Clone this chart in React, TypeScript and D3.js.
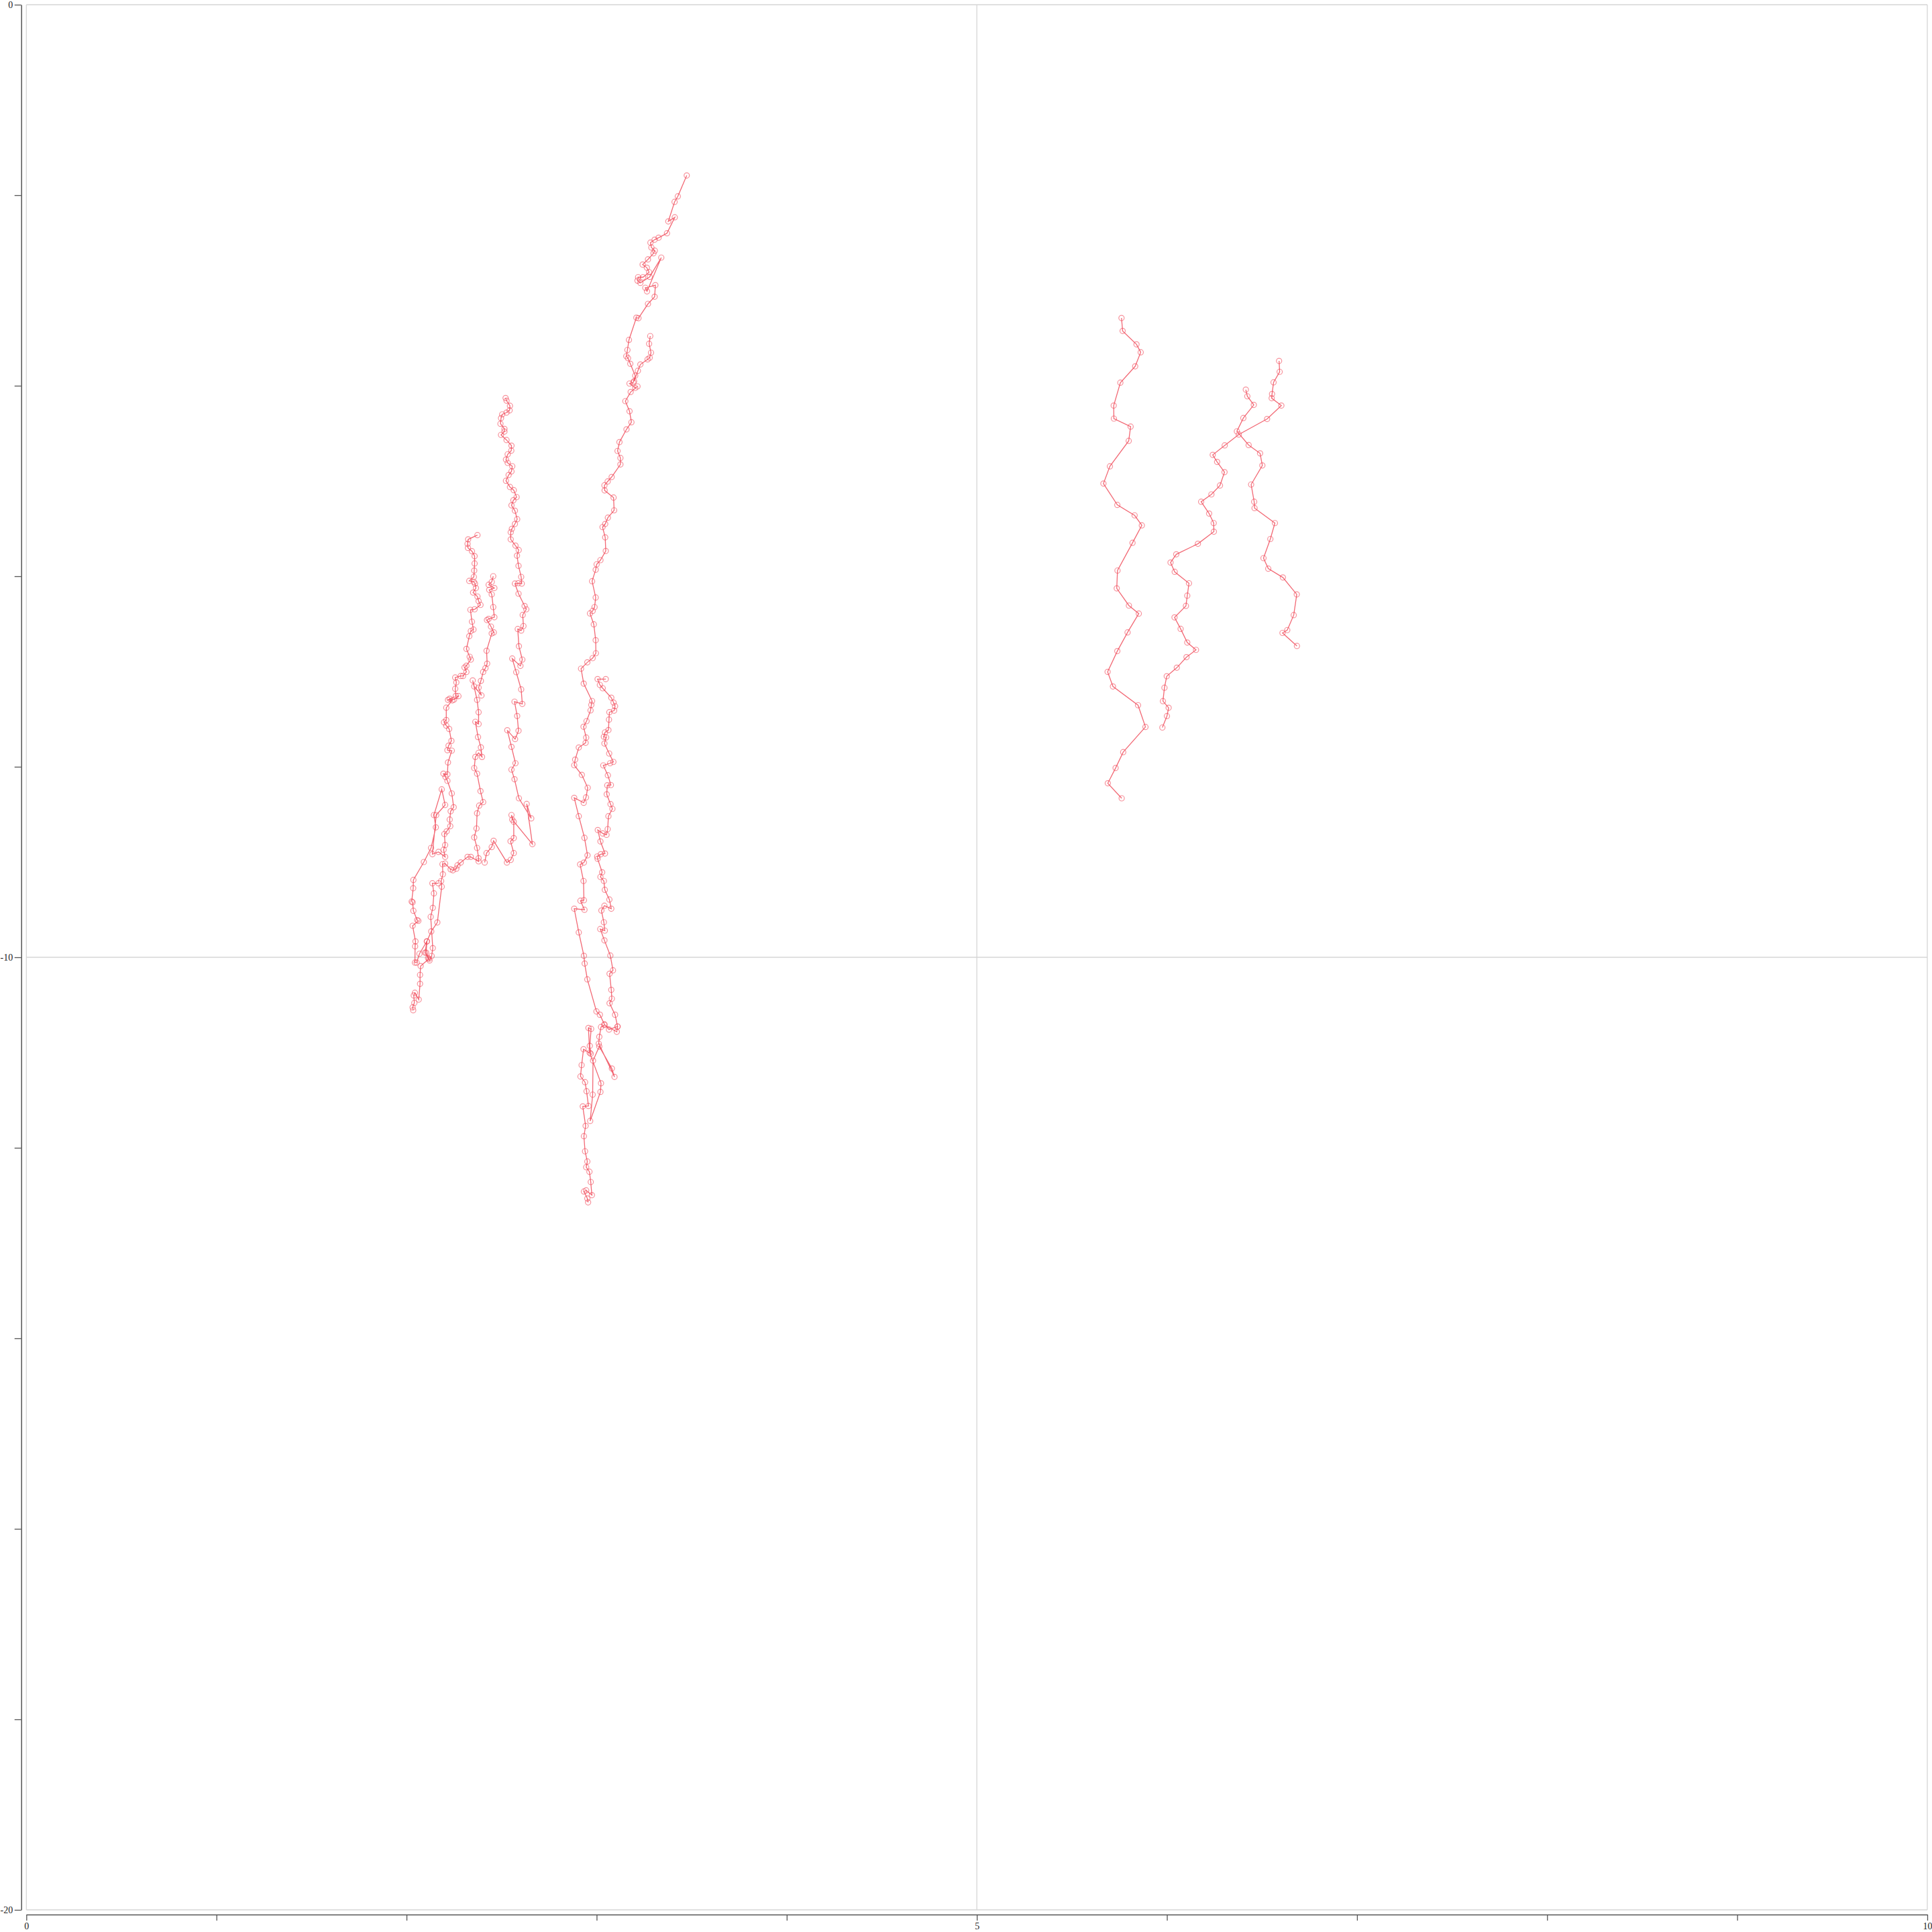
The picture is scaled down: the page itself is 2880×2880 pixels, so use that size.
import * as d3 from 'd3'
import { useEffect, useRef } from 'react'

type Pt = [number, number]

const xTicks = d3.range(0, 11, 1)
const yTicks = d3.range(0, -21, -2)
const xLabels = [0, 5, 10]
const yLabels = [0, -10, -20]

// left cluster
const westA: Pt[] = [
  [2.521, -4.129], [2.526, -4.157], [2.544, -4.211], [2.542, -4.258], [2.526, -4.282], [2.503, -4.301],
  [2.497, -4.34], [2.494, -4.399], [2.515, -4.453], [2.515, -4.481], [2.497, -4.516], [2.526, -4.57],
  [2.552, -4.629], [2.551, -4.681], [2.532, -4.72], [2.523, -4.775], [2.532, -4.81], [2.556, -4.845],
  [2.552, -4.899], [2.537, -4.937], [2.523, -4.998], [2.544, -5.063], [2.564, -5.096], [2.579, -5.169],
  [2.562, -5.202], [2.552, -5.256], [2.57, -5.312], [2.582, -5.401], [2.57, -5.451], [2.554, -5.502],
  [2.548, -5.538], [2.548, -5.613], [2.573, -5.678], [2.59, -5.725], [2.581, -5.784], [2.589, -5.89],
  [2.603, -6.007], [2.606, -6.077], [2.588, -6.073], [2.57, -6.077], [2.589, -6.183], [2.621, -6.312],
  [2.63, -6.347], [2.611, -6.406], [2.615, -6.523], [2.603, -6.57], [2.585, -6.554], [2.591, -6.735],
  [2.609, -6.875], [2.599, -6.941], [2.556, -6.864], [2.577, -7.007], [2.603, -7.188], [2.609, -7.34],
  [2.568, -7.317], [2.582, -7.467], [2.589, -7.622], [2.571, -7.709], [2.53, -7.617], [2.552, -7.791],
  [2.573, -7.963], [2.552, -8.03], [2.568, -8.131], [2.591, -8.331], [2.656, -8.542], [2.632, -8.39],
  [2.662, -8.812], [2.556, -8.554], [2.552, -8.507], [2.564, -8.577], [2.564, -8.749], [2.547, -8.782],
  [2.564, -8.906], [2.548, -8.977], [2.528, -9.005], [2.458, -8.777], [2.448, -8.843], [2.421, -8.906],
  [2.411, -9.005],
]

const westB: Pt[] = [
  [2.456, -6.0], [2.448, -6.059], [2.432, -6.089], [2.462, -6.124], [2.435, -6.143], [2.448, -6.19],
  [2.456, -6.324], [2.462, -6.43], [2.432, -6.448], [2.423, -6.46], [2.444, -6.528], [2.459, -6.589],
  [2.448, -6.601], [2.421, -6.782], [2.424, -6.918], [2.415, -6.965], [2.403, -7.005], [2.391, -7.099],
  [2.379, -7.169], [2.394, -7.251], [2.356, -7.157], [2.348, -7.094], [2.371, -7.298], [2.379, -7.427],
  [2.379, -7.551], [2.362, -7.528], [2.376, -7.688], [2.391, -7.796], [2.397, -7.897], [2.379, -7.854],
  [2.362, -7.897], [2.356, -8.014], [2.371, -8.073], [2.389, -8.256], [2.403, -8.371], [2.382, -8.408],
  [2.371, -8.488], [2.368, -8.648], [2.356, -8.742], [2.371, -8.852], [2.379, -8.96], [2.379, -8.993],
  [2.338, -8.946], [2.321, -8.946], [2.285, -9.005], [2.268, -9.035], [2.262, -9.07], [2.244, -9.087],
  [2.232, -9.077], [2.203, -9.016], [2.189, -9.023], [2.191, -9.129], [2.182, -9.199], [2.185, -9.258],
  [2.162, -9.634], [2.13, -9.728], [2.107, -9.833], [2.097, -9.951], [2.113, -10.009], [2.121, -10.033],
  [2.132, -9.986], [2.138, -9.904], [2.127, -9.575], [2.138, -9.481], [2.144, -9.329], [2.136, -9.223],
  [2.168, -9.223],
]

const westC: Pt[] = [
  [2.373, -5.568], [2.324, -5.613], [2.321, -5.66], [2.323, -5.702], [2.344, -5.737], [2.358, -5.789],
  [2.358, -5.866], [2.356, -5.941], [2.354, -6.007], [2.33, -6.049], [2.354, -6.059], [2.36, -6.077],
  [2.365, -6.124], [2.35, -6.171], [2.373, -6.213], [2.379, -6.261], [2.389, -6.301], [2.358, -6.347],
  [2.336, -6.352], [2.344, -6.477], [2.352, -6.559], [2.338, -6.575], [2.33, -6.629], [2.315, -6.763],
  [2.332, -6.845], [2.338, -6.875], [2.315, -6.939], [2.305, -6.958], [2.315, -7.005], [2.297, -7.047],
  [2.285, -7.047], [2.256, -7.063], [2.262, -7.115], [2.256, -7.181], [2.259, -7.256], [2.273, -7.258],
  [2.25, -7.294], [2.227, -7.286], [2.218, -7.298], [2.241, -7.303], [2.209, -7.38], [2.209, -7.509],
  [2.197, -7.533], [2.209, -7.568], [2.224, -7.603], [2.236, -7.728], [2.221, -7.779], [2.215, -7.826],
  [2.238, -7.831], [2.218, -7.955], [2.215, -8.08], [2.194, -8.073], [2.205, -8.108], [2.215, -8.148],
  [2.238, -8.28], [2.248, -8.425], [2.232, -8.467], [2.227, -8.554], [2.23, -8.624], [2.211, -8.678],
  [2.199, -8.706], [2.203, -8.822], [2.195, -8.871], [2.203, -8.946], [2.168, -8.894], [2.136, -8.918],
  [2.156, -8.507], [2.203, -8.401], [2.185, -8.237], [2.144, -8.507], [2.154, -8.636], [2.129, -8.852],
  [2.091, -9.0], [2.036, -9.188], [2.035, -9.275], [2.027, -9.415], [2.032, -9.423], [2.036, -9.512],
  [2.056, -9.61], [2.062, -9.618], [2.032, -9.669], [2.047, -9.833], [2.045, -9.885], [2.044, -10.056],
  [2.053, -10.056], [2.068, -9.963], [2.107, -9.833], [2.103, -9.951], [2.118, -10.016], [2.074, -10.092],
  [2.071, -10.185], [2.071, -10.279], [2.064, -10.444], [2.044, -10.373], [2.038, -10.401], [2.041, -10.479],
  [2.032, -10.526], [2.035, -10.556],
]

// middle trace
const midA: Pt[] = [
  [3.474, -1.793], [3.427, -2.012], [3.41, -2.07], [3.377, -2.275], [3.411, -2.232], [3.37, -2.399],
  [3.326, -2.446], [3.305, -2.467], [3.283, -2.498], [3.288, -2.549], [3.306, -2.582], [3.299, -2.61],
  [3.27, -2.674], [3.242, -2.728], [3.264, -2.761], [3.276, -2.808], [3.244, -2.861], [3.218, -2.861],
  [3.215, -2.897], [3.23, -2.92], [3.279, -2.857], [3.34, -2.655], [3.265, -3.009], [3.256, -2.972],
  [3.309, -2.944], [3.305, -3.066], [3.27, -3.141], [3.22, -3.291], [3.209, -3.286], [3.17, -3.519],
  [3.162, -3.625], [3.156, -3.69], [3.165, -3.711], [3.177, -3.77], [3.203, -3.894], [3.193, -3.965],
  [3.173, -3.977], [3.203, -4.023], [3.215, -4.007], [3.179, -4.066], [3.151, -4.162], [3.173, -4.268],
  [3.183, -4.383], [3.157, -4.458], [3.12, -4.592], [3.11, -4.685], [3.125, -4.758], [3.125, -4.826],
  [3.079, -4.958], [3.058, -5.005], [3.041, -5.045], [3.042, -5.099], [3.089, -5.174], [3.092, -5.308],
  [3.059, -5.385], [3.045, -5.451], [3.031, -5.484], [3.045, -5.592], [3.048, -5.735], [3.02, -5.831],
  [3.0, -5.875], [2.995, -5.932], [2.976, -6.052], [2.995, -6.223], [2.989, -6.324], [2.979, -6.364],
  [2.965, -6.39], [2.985, -6.505], [2.995, -6.671], [2.996, -6.808], [2.979, -6.859], [2.951, -6.904],
  [2.918, -6.97], [2.932, -7.127], [2.976, -7.31], [2.972, -7.35], [2.968, -7.408], [2.947, -7.521],
  [2.931, -7.58], [2.945, -7.693], [2.942, -7.749], [2.906, -7.798], [2.887, -7.925], [2.882, -7.984],
  [2.922, -8.085], [2.953, -8.22], [2.944, -8.322], [2.932, -8.378], [2.882, -8.326], [2.906, -8.519],
  [2.936, -8.746], [2.952, -8.93], [2.933, -9.006], [2.913, -9.025], [2.931, -9.199], [2.933, -9.401],
  [2.915, -9.406], [2.936, -9.501], [2.882, -9.49], [2.906, -9.739], [2.933, -9.985], [2.937, -10.066],
  [2.951, -10.232], [2.999, -10.568], [3.017, -10.603], [3.041, -10.704], [3.065, -10.758], [3.11, -10.727],
  [3.106, -10.782], [3.041, -10.711], [3.023, -10.732], [3.014, -10.835], [3.011, -10.906], [3.094, -11.256],
  [3.08, -11.168], [3.014, -10.937], [2.981, -11.085], [2.979, -11.442], [2.966, -11.718], [3.02, -11.413],
  [3.023, -11.323], [2.963, -11.001], [2.957, -10.742], [2.971, -10.751], [2.964, -10.93], [2.969, -11.013],
  [2.931, -10.965], [2.921, -11.132], [2.915, -11.251], [2.939, -11.311], [2.947, -11.406], [2.957, -11.561],
  [2.927, -11.566], [2.942, -11.77], [2.933, -11.878], [2.939, -12.037], [2.951, -12.144], [2.945, -12.204],
  [2.962, -12.251], [2.969, -12.359], [2.975, -12.497], [2.945, -12.447], [2.933, -12.459], [2.951, -12.532],
  [2.955, -12.573],
]

const midB: Pt[] = [
  [3.282, -3.479], [3.276, -3.559], [3.286, -3.653], [3.279, -3.706], [3.268, -3.723], [3.23, -3.777],
  [3.217, -3.843], [3.197, -3.953],
]

const midC: Pt[] = [
  [3.048, -7.08], [3.005, -7.08], [3.017, -7.141], [3.032, -7.176], [3.077, -7.275], [3.089, -7.326],
  [3.097, -7.364], [3.092, -7.411], [3.067, -7.427], [3.065, -7.505], [3.062, -7.615], [3.044, -7.639],
  [3.038, -7.685], [3.05, -7.692], [3.041, -7.756], [3.066, -7.861], [3.088, -7.949], [3.071, -7.963],
  [3.035, -7.986], [3.059, -8.089], [3.075, -8.192], [3.056, -8.195], [3.053, -8.289], [3.073, -8.392],
  [3.083, -8.442], [3.062, -8.519], [3.058, -8.655], [3.052, -8.714], [3.032, -8.7], [3.006, -8.664],
  [3.02, -8.784], [3.044, -8.911], [3.022, -8.918], [3.003, -8.942], [3.005, -8.966], [3.029, -9.108],
  [3.02, -9.156], [3.038, -9.199], [3.043, -9.292], [3.067, -9.394], [3.077, -9.49], [3.041, -9.459],
  [3.025, -9.509], [3.038, -9.632], [3.043, -9.72], [3.019, -9.704], [3.041, -9.823], [3.072, -9.982],
  [3.086, -10.137], [3.068, -10.173], [3.077, -10.342], [3.08, -10.435], [3.068, -10.483], [3.097, -10.603],
  [3.11, -10.727],
]

// right cluster
const eastA: Pt[] = [
  [5.761, -3.289], [5.767, -3.425], [5.84, -3.566], [5.862, -3.649], [5.833, -3.796], [5.755, -3.968],
  [5.72, -4.208], [5.721, -4.345], [5.809, -4.429], [5.799, -4.579], [5.7, -4.846], [5.666, -5.027],
  [5.739, -5.251], [5.83, -5.361], [5.868, -5.466], [5.819, -5.649], [5.74, -5.94], [5.736, -6.127],
  [5.8, -6.308], [5.852, -6.392], [5.793, -6.589], [5.739, -6.786], [5.688, -7.004], [5.716, -7.157],
  [5.848, -7.354], [5.887, -7.582], [5.77, -7.846], [5.73, -8.013], [5.689, -8.173], [5.762, -8.331],
]

const eastB: Pt[] = [
  [6.59, -3.74], [6.593, -3.854], [6.561, -3.964], [6.553, -4.087], [6.551, -4.131], [6.602, -4.208],
  [6.527, -4.349], [6.378, -4.512], [6.304, -4.626], [6.241, -4.726], [6.264, -4.8], [6.303, -4.907],
  [6.279, -5.047], [6.234, -5.141], [6.18, -5.218], [6.222, -5.342], [6.246, -5.442], [6.247, -5.532],
  [6.163, -5.659], [6.049, -5.77], [6.019, -5.856], [6.041, -5.954], [6.116, -6.074], [6.107, -6.204],
  [6.1, -6.311], [6.04, -6.432], [6.072, -6.552], [6.107, -6.696], [6.153, -6.773], [6.103, -6.849],
  [6.052, -6.96], [5.999, -7.05], [5.987, -7.17], [5.979, -7.311], [6.009, -7.381], [6.0, -7.468],
  [5.976, -7.588],
]

const eastC: Pt[] = [
  [6.415, -4.041], [6.423, -4.111], [6.457, -4.201], [6.402, -4.339], [6.368, -4.479], [6.43, -4.623],
  [6.49, -4.71], [6.502, -4.837], [6.443, -5.037], [6.459, -5.218], [6.461, -5.285], [6.568, -5.442],
  [6.544, -5.609], [6.508, -5.81], [6.533, -5.92], [6.61, -6.013], [6.683, -6.191], [6.667, -6.408],
  [6.633, -6.565], [6.608, -6.595], [6.684, -6.732],
]

const tracks = [westA, westB, westC, midA, midB, midC, eastA, eastB, eastC]

const plot = { left: 39.3, right: 2873, top: 7, bottom: 2847 }

export default function App() {
  const ref = useRef<SVGSVGElement | null>(null)

  useEffect(() => {
    if (!ref.current) return
    const svg = d3.select(ref.current)
    svg.selectAll('*').remove()

    const x = d3.scaleLinear().domain([0, 10]).range([plot.left, plot.right])
    const y = d3.scaleLinear().domain([0, -20]).range([plot.top, plot.bottom])

    // grid at labelled ticks
    const grid = svg.append('g').attr('stroke', '#d6d6d6').attr('stroke-width', 1.3)
    xLabels.forEach(v => {
      grid.append('line')
        .attr('x1', x(v)).attr('x2', x(v))
        .attr('y1', plot.top).attr('y2', plot.bottom)
    })
    yLabels.forEach(v => {
      grid.append('line')
        .attr('x1', plot.left).attr('x2', plot.right)
        .attr('y1', y(v)).attr('y2', y(v))
    })

    // x axis
    const gx = svg.append('g')
      .attr('transform', `translate(0,2854)`)
      .call(
        d3.axisBottom(x)
          .tickValues(xTicks)
          .tickSize(9)
          .tickSizeOuter(0)
          .tickPadding(3)
          .tickFormat(d => (xLabels.includes(+d) ? String(d) : ''))
      )

    // y axis
    const gy = svg.append('g')
      .attr('transform', `translate(31.7,0)`)
      .call(
        d3.axisLeft(y)
          .tickValues(yTicks)
          .tickSize(10)
          .tickSizeOuter(0)
          .tickPadding(2.5)
          .tickFormat(d => (yLabels.includes(+d) ? String(d) : ''))
      )

    ;[gx, gy].forEach(g => {
      g.attr('font-family', 'serif').attr('font-size', 14)
      g.select('.domain').attr('stroke', '#555').attr('stroke-width', 1.5)
      g.selectAll('.tick line').attr('stroke', '#555').attr('stroke-width', 1.3)
      g.selectAll('.tick text').attr('fill', '#222')
    })

    const line = d3.line<Pt>()
      .x(d => x(d[0]))
      .y(d => y(d[1]))

    const marks = svg.append('g')
    tracks.forEach(t => {
      marks.append('path')
        .datum(t)
        .attr('fill', 'none')
        .attr('stroke', '#ef4452')
        .attr('stroke-opacity', 0.8)
        .attr('stroke-width', 1.3)
        .attr('d', line)

      marks.append('g')
        .selectAll('circle')
        .data(t)
        .join('circle')
        .attr('cx', d => x(d[0]))
        .attr('cy', d => y(d[1]))
        .attr('r', 4)
        .attr('fill', 'none')
        .attr('stroke', '#f24a5a')
        .attr('stroke-opacity', 0.6)
        .attr('stroke-width', 1.2)
    })
  }, [])

  return (
    <svg
      ref={ref}
      width={2880}
      height={2880}
      style={{ position: 'absolute', left: 0, top: 0, display: 'block', background: '#fff' }}
    />
  )
}
